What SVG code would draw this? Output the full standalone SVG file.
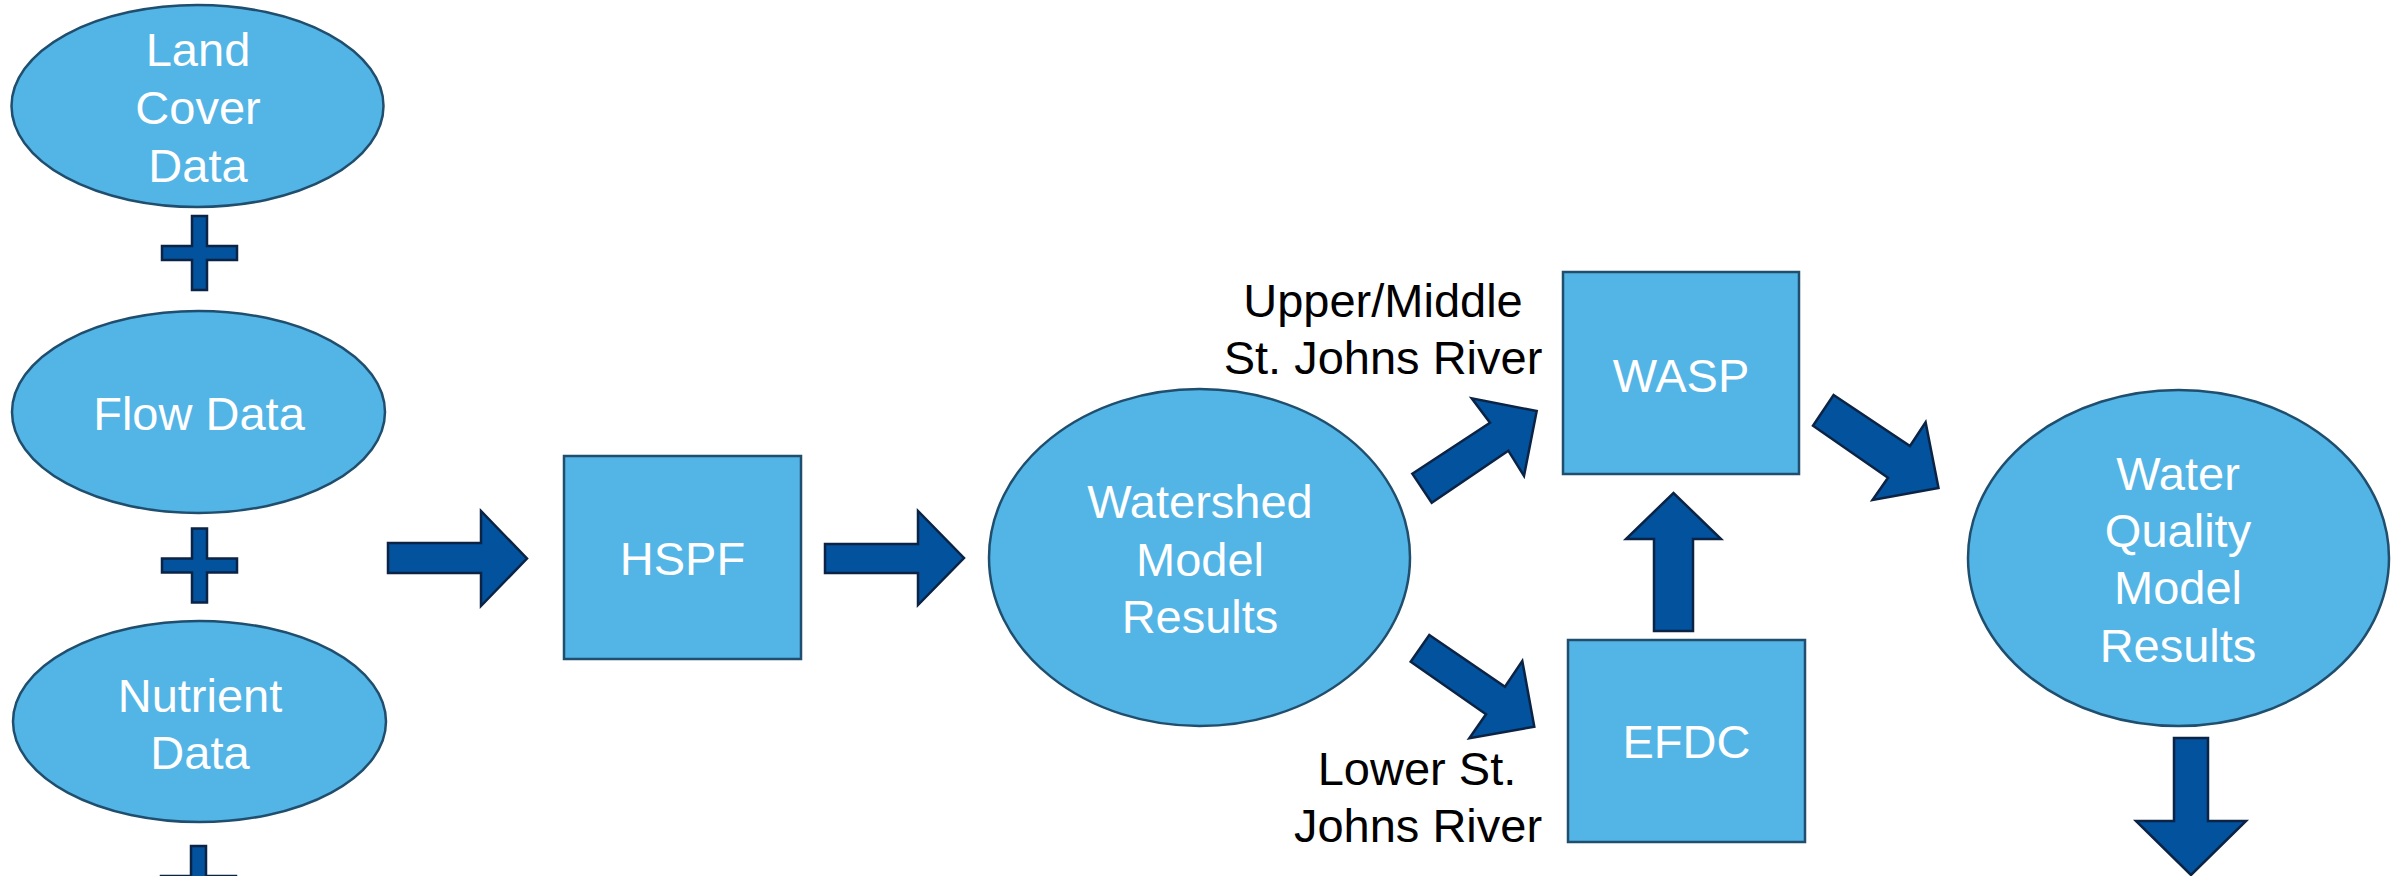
<svg xmlns="http://www.w3.org/2000/svg" width="2402" height="876" viewBox="0 0 2402 876">
<defs>
<style>
.node{fill:#53B4E6;stroke:#1F4E6E;stroke-width:2.5}
.ntxt{font-family:"Liberation Sans",Arial,sans-serif;font-size:47px;fill:#FFFFFF;text-anchor:middle}
.lbl{font-family:"Liberation Sans",Arial,sans-serif;font-size:47px;fill:#000000;text-anchor:middle}
.arr{fill:#02529E;stroke:#0B2345;stroke-width:2.5;stroke-linejoin:miter}
</style>
<path id="plus" d="M-7.5,-37 h15 v30 h30 v14 h-30 v30 h-15 v-30 h-30 v-14 h30 z"/>
</defs>
<rect width="2402" height="876" fill="#FFFFFF"/>

<g id="connectors">
<use href="#plus" class="arr" x="199.5" y="253"/>
<use href="#plus" class="arr" x="199.5" y="565.5"/>
<use href="#plus" class="arr" x="198.5" y="883"/>
<polygon class="arr" points="388,543 481,543 481,511 527,558.5 481,606 481,573 388,573"/>
<polygon class="arr" points="825,544 918,544 918,511 964,558 918,605 918,573 825,573"/>
<polygon class="arr" points="1412.3,473.7 1490,422.7 1471.7,398.3 1536.7,411 1524,476 1508.3,450.7 1431.7,502.7"/>
<polygon class="arr" points="1429.3,635 1505,686.7 1522.3,661 1534.3,726.7 1469.3,738.3 1486,714.3 1410.7,661.7"/>
<polygon class="arr" points="1654,631 1654,539 1626,539 1673.5,493 1721,539 1693,539 1693,631"/>
<polygon class="arr" points="1833.6,395 1910,446 1925.6,422.3 1938.5,488 1872.5,500 1888,477.7 1813,425.7"/>
<polygon class="arr" points="2174,738 2208,738 2208,821 2246,821 2191,875 2136,821 2174,821"/>
</g>

<g id="land-cover">
<ellipse class="node" cx="197.5" cy="106" rx="186" ry="101"/>
<text class="ntxt" x="198" y="66">Land</text>
<text class="ntxt" x="198" y="123.5">Cover</text>
<text class="ntxt" x="198" y="181.5">Data</text>
</g>

<g id="flow-data">
<ellipse class="node" cx="198.5" cy="412" rx="186.5" ry="101"/>
<text class="ntxt" x="199" y="430">Flow Data</text>
</g>

<g id="nutrient-data">
<ellipse class="node" cx="199.5" cy="721.5" rx="186.5" ry="100.5"/>
<text class="ntxt" x="200" y="712">Nutrient</text>
<text class="ntxt" x="200" y="769">Data</text>
</g>

<g id="hspf">
<rect class="node" x="564" y="456" width="237" height="203"/>
<text class="ntxt" x="682.5" y="575">HSPF</text>
</g>

<g id="watershed">
<ellipse class="node" cx="1199.5" cy="557.5" rx="210.5" ry="168.5"/>
<text class="ntxt" x="1200" y="518">Watershed</text>
<text class="ntxt" x="1200" y="576">Model</text>
<text class="ntxt" x="1200" y="633">Results</text>
</g>

<g id="label-upper">
<text class="lbl" x="1383" y="317">Upper/Middle</text>
<text class="lbl" x="1383" y="374">St. Johns River</text>
</g>

<g id="label-lower">
<text class="lbl" x="1417" y="785">Lower St.</text>
<text class="lbl" x="1418" y="842">Johns River</text>
</g>

<g id="wasp">
<rect class="node" x="1563" y="272" width="236" height="202"/>
<text class="ntxt" x="1681" y="392">WASP</text>
</g>

<g id="efdc">
<rect class="node" x="1568" y="640" width="237" height="202"/>
<text class="ntxt" x="1686.5" y="758">EFDC</text>
</g>

<g id="water-quality">
<ellipse class="node" cx="2178.5" cy="558" rx="210.5" ry="168"/>
<text class="ntxt" x="2178" y="490">Water</text>
<text class="ntxt" x="2178" y="547">Quality</text>
<text class="ntxt" x="2178" y="604">Model</text>
<text class="ntxt" x="2178" y="662">Results</text>
</g>
</svg>
